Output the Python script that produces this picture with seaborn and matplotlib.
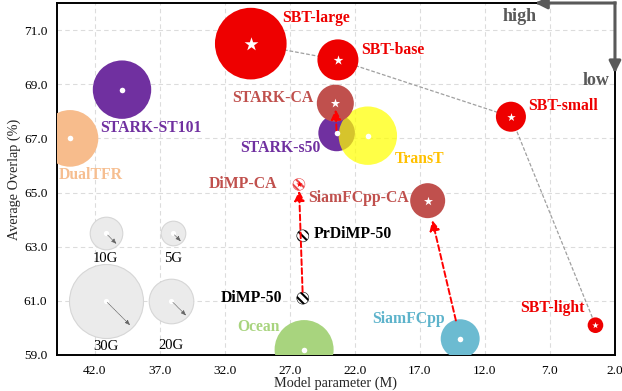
import numpy as np
import pandas as pd
import matplotlib
matplotlib.use("Agg")
import matplotlib.pyplot as plt
from matplotlib.colors import to_rgba
from matplotlib.ticker import MultipleLocator, FormatStrFormatter
import seaborn as sns

# ---- tracker results: parameters (M), average overlap (%), computation (GFLOPs)
trackers = ["DualTFR", "STARK-ST101", "SBT-large", "SBT-base", "STARK-s50", "TransT",
            "STARK-CA", "SBT-small", "SBT-light", "SiamFCpp-CA", "Ocean", "SiamFCpp"]
params_m = [43.9, 39.9, 30.0, 23.3, 23.4, 21.0, 23.5, 10.0, 3.5, 16.4, 25.9, 13.9]
avg_overlap = [67.0, 68.8, 70.5, 69.9, 67.2, 67.1, 68.3, 67.8, 60.1, 64.7, 59.2, 59.6]
gflops = [24.1, 24.7, 29.2, 17.0, 13.3, 24.7, 13.7, 8.4, 1.7, 12.0, 24.9, 15.3]

# DiMP family is drawn as small hatched markers
hatched_trackers = ["DiMP-50", "PrDiMP-50", "DiMP-CA"]
hatched_params = [26.0, 26.0, 26.3]
hatched_ao = [61.1, 63.4, 65.3]

# SBT scaling curve (connected by a dashed line)
sbt_series = ["SBT-large", "SBT-base", "SBT-small", "SBT-light"]

# baseline -> correlation-aware variant
improvements = [("STARK-s50", "STARK-CA"), ("DiMP-50", "DiMP-CA"), ("SiamFCpp", "SiamFCpp-CA")]

# bubble-size key
key_labels = ["10G", "5G", "30G", "20G"]
key_gflops = [10, 5, 30, 20]

# ---- styling
SBT_RED = "#EE0000"
CA_RED = "#C0504D"
PURPLE = "#7030A0"
colors = {
    "DualTFR": "#F7BC8C", "STARK-ST101": PURPLE, "SBT-large": SBT_RED, "SBT-base": SBT_RED,
    "STARK-s50": PURPLE, "TransT": to_rgba("#FFFF00", 0.72), "STARK-CA": CA_RED,
    "SBT-small": SBT_RED, "SBT-light": SBT_RED, "SiamFCpp-CA": CA_RED,
    "Ocean": "#A8D47E", "SiamFCpp": "#6CBBD1",
}
label_colors = dict(colors, TransT="#FFC000", DualTFR="#F6BE90", SiamFCpp="#5DB3CB",
                    **{"DiMP-50": "black", "PrDiMP-50": "black", "DiMP-CA": CA_RED})
star_center = {"SBT-large", "SBT-base", "SBT-small", "SBT-light", "STARK-CA", "SiamFCpp-CA"}

# bubble radius scale (px) as a function of GFLOPs
FLOP_ANCHORS = [0, 5, 10, 20, 30]
RADIUS_PX = [5.5, 12.3, 16.3, 22.3, 37.0]
PT_PER_PX = 72 / 100


def bubble_radius_pt(g):
    return np.interp(g, FLOP_ANCHORS, RADIUS_PX) * PT_PER_PX


def bubble_area(g):
    return (2 * bubble_radius_pt(g)) ** 2


# label anchors: (x, y, horizontal alignment)
label_layout = {
    "SBT-large": (27.6, 71.45, "left"), "SBT-base": (21.5, 70.25, "left"),
    "SBT-small": (8.7, 68.2, "left"), "SBT-light": (4.3, 60.72, "right"),
    "STARK-CA": (25.15, 68.5, "right"), "STARK-s50": (24.6, 66.66, "right"),
    "TransT": (18.95, 66.23, "left"), "STARK-ST101": (41.6, 67.39, "left"),
    "DualTFR": (44.8, 65.65, "left"), "DiMP-CA": (28.0, 65.33, "right"),
    "SiamFCpp-CA": (25.6, 64.8, "left"), "PrDiMP-50": (25.2, 63.46, "left"),
    "DiMP-50": (27.56, 61.12, "right"), "Ocean": (27.8, 60.04, "right"),
    "SiamFCpp": (20.67, 60.32, "left"),
}
# key bubble centre and key caption position
key_layout = {"10G": (41.15, 63.5, 62.58), "5G": (36.0, 63.5, 62.58),
              "30G": (41.15, 61.0, 59.33), "20G": (36.1, 61.0, 59.36)}

sns.set_theme(style="white")
plt.rcParams["font.family"] = ["Liberation Serif", "DejaVu Serif"]
plt.rcParams["hatch.linewidth"] = 1.5

fig = plt.figure(figsize=(6.22, 3.91), dpi=100)
ax = fig.add_axes([0.0916, 0.0921, 0.8971, 0.9002])

df = pd.DataFrame({"tracker": trackers, "params": params_m, "ao": avg_overlap, "gflops": gflops})
pos = {t: (x, y) for t, x, y in zip(trackers, params_m, avg_overlap)}
pos.update({t: (x, y) for t, x, y in zip(hatched_trackers, hatched_params, hatched_ao)})

# bubble-size key
for lab, g in zip(key_labels, key_gflops):
    kx, ky, ty = key_layout[lab]
    ax.scatter([kx], [ky], s=bubble_area(g), color="#EBEBEB", edgecolor="#D6D6D6",
               linewidth=0.8, zorder=2)
    ax.scatter([kx], [ky], s=14, color="white", linewidth=0, zorder=3)
    r = bubble_radius_pt(g) * 0.93
    ang = np.deg2rad(-45)
    ax.annotate("", xy=(kx, ky), xytext=(r * np.cos(ang), r * np.sin(ang)),
                textcoords="offset points",
                arrowprops=dict(arrowstyle="<|-,head_length=0.5,head_width=0.2", color="#666666",
                                lw=0.5, linestyle=(0, (1.5, 1)), shrinkA=0, shrinkB=1.5,
                                mutation_scale=6), zorder=3)
    ax.text(kx, ty, lab, ha="center", va="center", fontsize=10.5, color="black", zorder=4)

# SBT scaling line
sbt_x = [pos[t][0] for t in sbt_series]
sbt_y = [pos[t][1] for t in sbt_series]
ax.plot(sbt_x, sbt_y, color="#A0A0A0", lw=0.9, dashes=(3, 1.5), zorder=2)

# tracker bubbles
sizes = {t: bubble_area(g) for t, g in zip(trackers, gflops)}
sns.scatterplot(data=df, x="params", y="ao", hue="tracker", palette=colors,
                size="tracker", sizes=sizes, linewidth=0, legend=False, ax=ax, zorder=3)

# centre marks
for t, g in zip(trackers, gflops):
    x, y = pos[t]
    if t in star_center:
        d = (4 + 0.24 * np.interp(g, FLOP_ANCHORS, RADIUS_PX)) * PT_PER_PX * 1.15
        ax.scatter([x], [y], marker="*", s=d ** 2, color="white", linewidth=0, zorder=4)
    else:
        ax.scatter([x], [y], marker="o", s=16, color="white", linewidth=0, zorder=4)

# hatched DiMP markers
for t, x, y in zip(hatched_trackers, hatched_params, hatched_ao):
    ec = "#E8484A" if t == "DiMP-CA" else "black"
    ax.scatter([x], [y], s=(12 * PT_PER_PX) ** 2, facecolor="white", edgecolor=ec,
               hatch="\\\\\\\\", linewidth=0.4, zorder=4)
ax.scatter([pos["DiMP-CA"][0]], [pos["DiMP-CA"][1]], marker="*", s=22, color="#FF0000",
           linewidth=0, zorder=5)

# improvement arrows
shrinks = {"STARK-CA": (2, 4.5), "DiMP-CA": (4.5, 4.5), "SiamFCpp-CA": (13.5, 14.5)}
for src, dst in improvements:
    sa, sb = shrinks[dst]
    ax.annotate("", xy=pos[dst], xytext=pos[src],
                arrowprops=dict(arrowstyle="-|>,head_length=0.6,head_width=0.3", color="#FF0000",
                                lw=1.4, linestyle=(0, (3, 1.6)), shrinkA=sa, shrinkB=sb,
                                mutation_scale=10), zorder=6)

# tracker names
for t, (lx, ly, ha) in label_layout.items():
    ax.text(lx, ly, t, ha=ha, va="center", fontsize=11.3, fontweight="bold",
            color=label_colors[t], zorder=7)

# axes, ticks and grid
ax.set_xlim(44.9, 2.0)
ax.set_ylim(59.0, 72.0)
ax.set_xticks(np.arange(42.0, 1.0, -5.0))
ax.set_yticks(np.arange(59.0, 72.0, 2.0))
ax.xaxis.set_major_formatter(FormatStrFormatter("%.1f"))
ax.yaxis.set_major_formatter(FormatStrFormatter("%.1f"))
ax.xaxis.set_minor_locator(MultipleLocator(1.0))
ax.yaxis.set_minor_locator(MultipleLocator(0.25))
ax.tick_params(which="both", direction="in", colors="black", labelsize=9.6, width=0.9)
ax.tick_params(which="major", length=3.2)
ax.tick_params(which="minor", length=2.0)
ax.tick_params(axis="x", which="major", pad=7)
ax.tick_params(axis="y", which="major", pad=7)
ax.grid(True, which="major", color="#DCDCDC", lw=0.8, linestyle=(0, (4, 3)), zorder=0)
ax.set_axisbelow(True)
for sp in ax.spines.values():
    sp.set_color("black")
    sp.set_linewidth(1.4)
ax.set_xlabel("Model parameter (M)", fontsize=10.3, labelpad=0)
ax.set_ylabel("Average Overlap (%)", fontsize=10.3, labelpad=2)

# high / low direction guides
guide = dict(arrowstyle="-|>,head_length=0.7,head_width=0.35", color="#595959", lw=2.2,
             shrinkA=0, shrinkB=0, mutation_scale=10, capstyle="projecting")
ax.annotate("", xy=(0.857, 1.0), xytext=(1.0, 1.0), xycoords="axes fraction",
            arrowprops=guide, annotation_clip=False, zorder=8)
ax.annotate("", xy=(1.0, 0.801), xytext=(1.0, 1.0), xycoords="axes fraction",
            arrowprops=guide, annotation_clip=False, zorder=8)
ax.text(0.8285, 0.963, "high", transform=ax.transAxes, ha="center", va="center",
        fontsize=13, fontweight="bold", color="#595959")
ax.text(0.967, 0.78, "low", transform=ax.transAxes, ha="center", va="center",
        fontsize=13, fontweight="bold", color="#595959")

fig.savefig("out.png", dpi=100)
